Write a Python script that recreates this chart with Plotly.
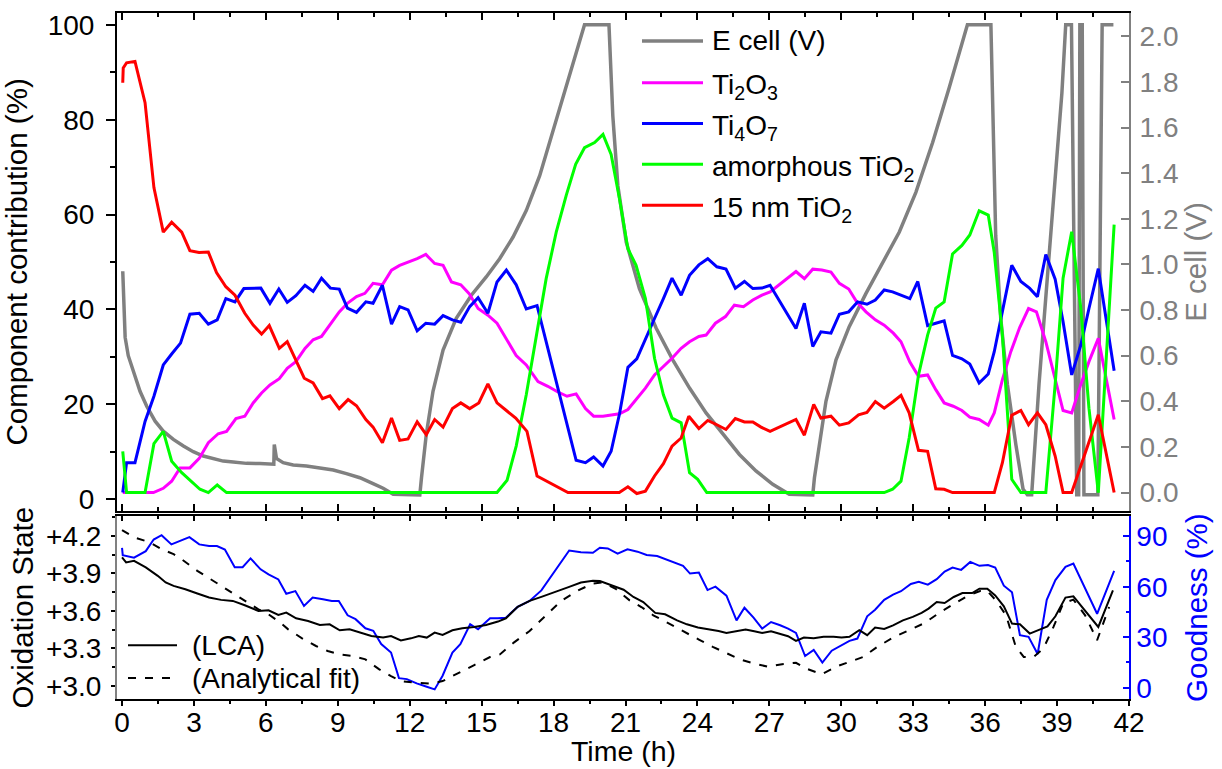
import plotly.graph_objects as go

# ---------------- top panel data ----------------
t_ecell = [0.03, 0.06, 0.13, 0.26, 0.47, 0.75, 1.03, 1.38, 1.72, 2.14, 2.56, 2.97, 3.39, 3.81, 4.22, 4.64,
           5.19, 5.75, 6.33, 6.35, 6.44, 6.72, 7.14, 7.69, 8.25, 8.81, 9.36, 9.92, 10.47, 10.89, 11.31, 12.42,
           12.49, 12.69, 12.97, 13.39, 13.94, 14.57, 15.19, 15.75, 16.31, 16.86, 17.42, 17.97, 18.53, 18.94,
           19.29, 20.31, 20.47, 20.68, 21.03, 21.58, 22.28, 22.97, 23.67, 24.36, 25.06, 25.75, 26.44, 27.14,
           27.83, 28.81, 28.88, 29.08, 29.36, 29.78, 30.33, 31.03, 31.72, 32.42, 33.11, 33.81, 34.50, 34.92,
           35.26, 36.24, 36.31, 36.44, 36.65, 36.93, 37.28, 37.58, 37.76, 37.94, 38.04, 38.25, 38.60, 38.94,
           39.20, 39.36, 39.60, 39.82, 39.90, 39.95, 40.05, 40.12, 40.70, 40.88, 41.35]
ecell = [0.97, 0.84, 0.68, 0.60, 0.53, 0.444, 0.378, 0.313, 0.269, 0.233, 0.204, 0.179, 0.160, 0.148, 0.138, 0.134,
         0.128, 0.127, 0.124, 0.211, 0.150, 0.131, 0.121, 0.116, 0.109, 0.099, 0.083, 0.065, 0.039, 0.019, -0.007, -0.01,
         0.065, 0.255, 0.444, 0.625, 0.764, 0.865, 0.945, 1.025, 1.120, 1.236, 1.389, 1.585, 1.782, 1.934,
         2.05, 2.05, 1.651, 1.345, 1.098, 0.894, 0.720, 0.582, 0.458, 0.349, 0.255, 0.167, 0.095, 0.036,
         -0.007, -0.01, 0.065, 0.211, 0.40, 0.582, 0.727, 0.873, 1.003, 1.142, 1.316, 1.534, 1.774, 1.934,
         2.05, 2.05, 1.709, 1.127, 0.764, 0.473, 0.211, 0.015, -0.01, -0.01, 0.15, 0.48, 0.95, 1.40,
         1.75, 2.05, 2.05, -0.01, -0.01, 2.05, 2.05, -0.01, -0.01, 2.05, 2.05]

t_ti2o3 = [0.03, 1.31, 1.72, 2.07, 2.42, 2.83, 3.22, 3.60, 4.01, 4.36, 4.75, 5.12, 5.47, 5.82, 6.17, 6.56, 6.89,
           7.25, 7.63, 7.97, 8.32, 8.67, 9.06, 9.40, 9.78, 10.13, 10.47, 10.86, 11.24, 11.58, 11.93, 12.31, 12.67,
           13.04, 13.39, 13.74, 14.13, 14.47, 14.85, 15.26, 15.64, 16.03, 16.44, 16.86, 17.35, 17.76, 18.14, 18.56,
           18.94, 19.33, 19.67, 20.06, 20.75, 21.10, 21.47, 21.83, 22.21, 22.58, 22.94, 23.32, 23.67, 24.06, 24.36,
           24.75, 25.17, 25.54, 25.92, 26.31, 26.69, 27.03, 27.39, 27.76, 28.11, 28.46, 28.81, 29.19, 29.57, 29.92,
           30.31, 30.64, 31.03, 31.42, 31.79, 32.17, 32.49, 32.86, 33.22, 33.60, 33.94, 34.29, 34.67, 35.03, 35.36,
           35.75, 36.13, 36.38, 36.72, 37.07, 37.44, 37.81, 38.14, 38.53, 38.89, 39.25, 39.61, 39.99, 40.33, 40.72,
           41.38]
ti2o3 = [1.4, 1.4, 2.3, 3.8, 6.6, 6.6, 8.6, 11.9, 13.8, 14.3, 17.0, 17.5, 20.3, 22.4, 24.1, 25.4, 27.6,
         29.0, 31.8, 33.6, 34.3, 36.7, 39.5, 41.3, 42.7, 43.4, 45.5, 45.2, 48.3, 49.3, 50.0, 50.7, 51.6,
         49.7, 49.3, 45.8, 45.2, 43.4, 40.2, 38.8, 37.1, 33.9, 30.3, 28.3, 24.8, 23.8, 22.7, 21.7,
         22.2, 19.1, 17.5, 17.5, 18.0, 18.9, 21.3, 23.4, 26.2, 28.0, 29.7, 31.8, 33.2, 34.3, 34.6,
         37.1, 38.5, 40.9, 40.6, 42.0, 43.0, 43.7, 45.1, 46.6, 48.0, 46.5, 48.5, 48.3, 47.9, 45.5,
         44.3, 41.6, 39.5, 37.8, 36.7, 35.0, 33.2, 28.9, 25.9, 26.2, 23.1, 20.3, 19.6, 18.7, 17.3,
         16.8, 15.6, 18.2, 25.2, 31.1, 36.2, 40.2, 39.5, 33.2, 25.9, 18.7, 18.2, 24.2, 29.0, 33.9,
         16.8]

t_ti4o7 = [0.03, 0.19, 0.54, 0.96, 1.33, 1.72, 2.07, 2.44, 2.83, 3.22, 3.60, 3.97, 4.33, 4.71, 5.08, 5.44, 5.79,
           6.17, 6.54, 6.89, 7.25, 7.63, 7.97, 8.32, 8.69, 9.06, 9.40, 9.78, 10.17, 10.47, 10.86, 11.24, 11.58,
           11.93, 12.31, 12.67, 13.04, 13.39, 13.78, 14.13, 14.50, 14.85, 15.26, 15.64, 16.03, 16.44, 16.86, 17.31,
           18.94, 19.33, 19.67, 20.06, 20.40, 20.75, 21.10, 21.47, 21.83, 22.21, 22.58, 22.94, 23.32, 23.67, 24.06,
           24.43, 24.81, 25.19, 25.58, 25.96, 26.31, 26.69, 27.03, 28.11, 28.46, 28.81, 29.15, 29.57, 29.92, 30.31,
           30.68, 31.07, 31.42, 31.79, 32.14, 32.49, 32.86, 33.19, 33.60, 33.94, 34.29, 34.64, 35.03, 35.36, 35.75,
           36.13, 36.38, 36.72, 37.11, 37.49, 37.85, 38.18, 38.53, 38.92, 39.25, 39.61, 39.99, 40.33, 40.72, 41.38]
ti4o7 = [1.4, 7.7, 7.7, 16.4, 21.7, 28.3, 30.6, 32.9, 39.0, 39.2, 36.9, 37.8, 42.3, 41.6, 44.4, 44.4, 44.5,
         41.3, 44.3, 41.5, 42.9, 45.1, 43.8, 46.6, 44.5, 44.3, 40.3, 39.4, 41.6, 41.3, 45.1, 36.9, 40.6,
         39.9, 35.5, 37.1, 36.9, 38.7, 37.8, 37.3, 40.6, 42.5, 39.2, 45.8, 48.3, 45.2, 40.1, 40.8,
         8.2, 7.7, 8.9, 7.0, 10.1, 18.0, 27.8, 29.6, 33.9, 38.1, 42.3, 46.6, 43.0, 47.2, 49.4,
         50.7, 49.0, 48.5, 44.5, 45.9, 44.4, 44.5, 45.1, 36.0, 41.3, 32.2, 35.3, 35.0, 39.0, 39.5,
         41.6, 41.1, 42.0, 44.1, 43.7, 43.0, 42.3, 45.9, 36.6, 37.1, 37.6, 30.3, 29.6, 28.5, 24.5,
         26.4, 31.1, 39.6, 49.3, 45.9, 44.5, 42.7, 51.6, 46.4, 37.4, 26.2, 32.5, 40.2, 48.6, 27.1]

t_amorph = [0.03, 0.19, 0.96, 1.33, 1.72, 2.07, 2.49, 2.90, 3.25, 3.60, 3.97, 4.36, 15.64, 16.06, 16.44, 16.86,
            17.28, 17.69, 18.11, 18.53, 18.92, 19.29, 19.71, 20.06, 20.40, 20.75, 21.10, 21.44, 21.83, 22.21,
            22.58, 22.94, 23.32, 23.67, 24.01, 24.39, 31.79, 32.14, 32.49, 32.83, 33.22, 33.60, 33.94, 34.29,
            34.64, 35.03, 35.36, 35.75, 36.13, 36.38, 36.72, 37.11, 37.49, 38.53, 38.92, 39.25, 39.61, 39.99,
            40.33, 40.72, 41.38]
amorph = [10.1, 1.4, 1.4, 11.7, 14.3, 8.0, 5.6, 3.8, 2.1, 1.4, 3.0, 1.4, 1.4, 4.0, 11.2, 22.0,
          34.6, 46.5, 56.3, 64.1, 70.6, 74.1, 75.2, 76.9, 72.7, 63.3, 52.8, 49.3, 42.3, 29.7,
          22.0, 17.1, 16.1, 5.6, 4.2, 1.4, 1.4, 2.1, 3.8, 12.9, 26.2, 34.6, 40.3, 41.6,
          51.7, 53.5, 55.7, 60.8, 59.9, 52.0, 34.6, 4.2, 1.4, 1.4, 24.2, 46.6, 56.4, 40.2,
          19.2, 1.4, 57.9]

t_nm15 = [0.03, 0.05, 0.19, 0.54, 0.96, 1.33, 1.72, 2.07, 2.49, 2.83, 3.21, 3.60, 3.94, 4.33, 4.71, 5.12, 5.47,
          5.82, 6.14, 6.56, 6.89, 7.25, 7.60, 7.97, 8.36, 8.67, 9.06, 9.43, 9.78, 10.17, 10.47, 10.86, 11.24,
          11.58, 11.93, 12.31, 12.69, 13.04, 13.39, 13.78, 14.13, 14.50, 14.88, 15.26, 15.64, 16.03, 16.42, 16.89,
          17.31, 18.60, 20.74, 21.10, 21.47, 21.83, 22.21, 22.58, 22.94, 23.32, 23.64, 24.06, 24.43, 24.81, 25.19,
          25.58, 25.96, 26.31, 26.65, 27.03, 27.42, 28.11, 28.46, 28.85, 29.15, 29.57, 29.92, 30.31, 30.72, 31.07,
          31.42, 31.79, 32.17, 32.49, 32.83, 33.22, 33.60, 33.94, 34.29, 34.64, 36.38, 36.72, 37.11, 37.49, 37.81,
          38.18, 38.53, 38.92, 39.25, 39.61, 40.72, 41.38]
nm15 = [87.8, 90.9, 92.0, 92.3, 83.6, 65.7, 56.3, 58.4, 56.3, 52.4, 52.0, 52.1, 47.8, 44.8, 43.0, 39.2, 36.7,
        34.8, 36.6, 31.8, 33.2, 29.4, 25.5, 24.5, 21.2, 21.8, 19.1, 21.0, 19.7, 16.8, 15.2, 11.9, 17.1,
        12.4, 12.7, 16.3, 13.6, 16.8, 15.2, 19.1, 20.3, 19.1, 20.3, 24.3, 20.3, 18.7, 17.1, 14.3,
        4.9, 1.4, 1.4, 2.6, 1.2, 1.7, 4.9, 7.5, 11.2, 12.9, 17.5, 14.9, 16.6, 15.7, 14.7,
        17.0, 16.3, 16.3, 15.2, 14.3, 15.2, 16.8, 13.5, 20.0, 17.1, 17.5, 15.6, 16.1, 17.8, 18.3,
        20.6, 19.2, 20.6, 21.9, 18.2, 10.3, 10.1, 2.2, 2.1, 1.4, 1.4, 7.7, 17.7, 18.7, 15.7,
        18.2, 15.7, 9.1, 1.4, 1.4, 17.8, 1.4]

# ---------------- bottom panel data ----------------
t_lca = [0.00, 0.17, 0.50, 0.99, 1.49, 1.82, 2.15, 2.64, 3.14, 3.63, 4.13, 4.62, 5.12, 5.69, 6.11, 6.52, 6.85,
         7.26, 7.76, 8.25, 8.66, 9.08, 9.49, 9.90, 10.40, 10.89, 11.22, 11.63, 12.05, 12.38, 12.71, 13.04, 13.37,
         13.78, 14.19, 14.69, 15.18, 15.68, 16.01, 16.50, 17.00, 17.49, 18.15, 18.65, 19.14, 19.64, 19.93, 20.42,
         20.92, 21.33, 21.74, 22.24, 22.65, 23.15, 23.56, 24.02, 24.47, 24.88, 25.21, 25.63, 26.01, 26.37, 26.70,
         27.07, 27.45, 27.78, 28.11, 28.44, 28.85, 29.26, 29.68, 30.01, 30.34, 30.75, 31.08, 31.41, 31.79, 32.16,
         32.57, 32.98, 33.35, 33.64, 33.98, 34.31, 34.69, 35.05, 35.46, 35.76, 36.09, 36.42, 36.78, 37.12, 37.45,
         37.86, 38.27, 38.60, 38.93, 39.35, 39.68, 40.17, 40.72, 41.33]
ox_lca = [4.027, 3.987, 4.000, 3.947, 3.880, 3.827, 3.800, 3.773, 3.739, 3.707, 3.688, 3.680, 3.645, 3.600, 3.605, 3.568, 3.587,
          3.541, 3.520, 3.488, 3.493, 3.445, 3.453, 3.427, 3.400, 3.387, 3.400, 3.365, 3.381, 3.400, 3.387, 3.427, 3.408,
          3.445, 3.461, 3.472, 3.488, 3.515, 3.541, 3.632, 3.680, 3.712, 3.755, 3.792, 3.827, 3.840, 3.838, 3.804,
          3.769, 3.711, 3.671, 3.584, 3.573, 3.525, 3.493, 3.467, 3.456, 3.440, 3.424, 3.440, 3.451, 3.438, 3.424,
          3.438, 3.419, 3.398, 3.361, 3.387, 3.382, 3.393, 3.393, 3.387, 3.393, 3.446, 3.406, 3.467, 3.456, 3.485,
          3.525, 3.552, 3.584, 3.618, 3.671, 3.663, 3.711, 3.743, 3.743, 3.777, 3.777, 3.724, 3.637, 3.499, 3.493,
          3.419, 3.451, 3.477, 3.557, 3.706, 3.716, 3.605, 3.472, 3.764]

t_fit = [0.00, 0.50, 1.16, 1.65, 2.15, 2.48, 3.14, 3.80, 4.46, 5.12, 5.69, 6.11, 6.60, 6.93, 7.51, 8.09, 8.58,
         9.08, 9.65, 10.15, 10.73, 11.22, 11.63, 12.21, 12.87, 13.37, 14.03, 14.69, 15.35, 15.76, 16.34, 17.00, 17.66,
         18.32, 18.98, 19.64, 20.05, 20.59, 21.17, 21.66, 22.16, 22.74, 23.40, 24.06, 24.64, 25.21, 25.79, 26.37,
         26.95, 27.53, 28.11, 28.52, 29.18, 29.84, 30.50, 30.92, 31.50, 32.16, 32.82, 33.48, 34.14, 34.72, 35.30,
         35.79, 36.09, 36.45, 36.87, 37.28, 37.61, 38.02, 38.43, 38.85, 39.26, 39.68, 40.17, 40.67, 41.17]
ox_fit = [4.245, 4.187, 4.147, 4.093, 4.053, 4.013, 3.920, 3.840, 3.760, 3.680, 3.613, 3.573, 3.507, 3.453, 3.381, 3.320, 3.280,
          3.253, 3.240, 3.213, 3.133, 3.080, 3.040, 3.027, 3.019, 3.040, 3.107, 3.168, 3.232, 3.253, 3.347, 3.440, 3.560,
          3.680, 3.760, 3.819, 3.827, 3.777, 3.684, 3.631, 3.565, 3.504, 3.440, 3.371, 3.313, 3.260, 3.212, 3.180,
          3.154, 3.175, 3.186, 3.141, 3.095, 3.159, 3.202, 3.233, 3.313, 3.387, 3.446, 3.504, 3.592, 3.658, 3.724,
          3.759, 3.759, 3.684, 3.565, 3.313, 3.233, 3.233, 3.300, 3.472, 3.663, 3.690, 3.565, 3.366, 3.631]

t_good = [0.00, 0.03, 0.50, 0.99, 1.32, 1.65, 2.06, 2.48, 2.81, 3.22, 3.63, 3.96, 4.29, 4.70, 5.03, 5.36, 5.78,
          6.11, 6.52, 6.85, 7.23, 7.59, 7.95, 8.38, 8.75, 9.04, 9.41, 9.74, 10.15, 10.48, 10.81, 11.22, 11.55,
          11.88, 12.29, 12.71, 13.04, 13.37, 13.78, 14.11, 14.52, 14.85, 15.35, 15.68, 16.01, 16.50, 17.00, 17.49,
          17.99, 18.65, 19.14, 19.64, 19.93, 20.26, 20.67, 21.08, 21.50, 21.88, 22.32, 22.65, 23.07, 23.40, 23.69,
          24.06, 24.42, 24.75, 25.21, 25.63, 25.96, 26.34, 26.70, 27.07, 27.45, 27.78, 28.11, 28.49, 28.85, 29.21,
          29.60, 30.01, 30.34, 30.67, 31.08, 31.41, 31.79, 32.16, 32.49, 32.90, 33.23, 33.61, 33.98, 34.31, 34.64,
          35.00, 35.38, 35.76, 36.12, 36.42, 36.78, 37.12, 37.45, 37.81, 38.19, 38.57, 38.93, 39.35, 39.68, 40.67,
          41.38]
goodness = [83.1, 78.7, 77.2, 81.1, 88.0, 90.6, 85.1, 87.4, 89.4, 85.1, 84.1, 84.1, 82.1, 71.6, 71.6, 76.8, 70.3,
            67.3, 64.3, 55.8, 57.4, 48.6, 53.5, 52.5, 51.5, 51.5, 43.0, 40.7, 35.3, 33.8, 25.9, 20.9, 5.7,
            5.1, 2.6, 0.6, -1.0, 7.1, 20.9, 25.9, 37.7, 34.7, 41.3, 41.3, 41.6, 48.0, 51.5, 57.8,
            67.7, 81.5, 80.5, 80.1, 83.1, 82.7, 79.6, 82.2, 80.8, 78.8, 78.2, 76.3, 74.3, 72.4, 67.8,
            68.4, 58.0, 60.0, 54.7, 40.0, 47.5, 41.6, 35.1, 39.0, 37.1, 35.1, 32.5, 18.8, 22.4, 14.9,
            22.0, 25.3, 27.8, 29.2, 42.4, 46.3, 52.2, 55.3, 57.3, 61.6, 62.9, 61.2, 64.5, 69.0, 71.4,
            70.0, 74.7, 72.4, 72.9, 71.4, 60.6, 56.7, 31.2, 30.2, 20.0, 52.2, 63.9, 71.8, 73.7, 43.9,
            69.4]

x_ticks = list(range(0, 43, 3))
ox_ticks = [3.0, 3.3, 3.6, 3.9, 4.2]
ox_ticktext = ["+3.0", "+3.3", "+3.6", "+3.9", "+4.2"]
ecell_ticks = [0, 0.2, 0.4, 0.6, 0.8, 1.0, 1.2, 1.4, 1.6, 1.8, 2.0]
comp_ticks = [0, 20, 40, 60, 80, 100]
good_ticks = [0, 30, 60, 90]

# ---------------- styling ----------------
FONT = "Liberation Sans, Arial, sans-serif"
FS = 28      # tick labels / legend
FT = 29.5    # axis titles
GREY = "#808080"
W, H = 1222, 769
L, R, T, B = 117, 93, 10, 70
PW, PH = W - L - R, H - T - B


def px_x(X):
    return (X - L) / PW


def px_y(Y):
    return (H - B - Y) / PH


top_dom = [px_y(510), 1.0]
bot_dom = [0.0, px_y(515.5)]
x_range = [-0.21, 42.0]

fig = go.Figure()

fig.add_trace(go.Scatter(x=t_ecell, y=ecell, mode="lines", name="E cell (V)",
                         line=dict(color=GREY, width=3.5), xaxis="x", yaxis="y"))
series = [("Ti<sub>2</sub>O<sub>3</sub>", t_ti2o3, ti2o3, "#FF00FF"),
          ("Ti<sub>4</sub>O<sub>7</sub>", t_ti4o7, ti4o7, "#0000FF"),
          ("amorphous TiO<sub>2</sub>", t_amorph, amorph, "#00FF00"),
          ("15 nm TiO<sub>2</sub>", t_nm15, nm15, "#FF0000")]
for name, tx, vy, col in series:
    fig.add_trace(go.Scatter(x=tx, y=vy, mode="lines", name=name,
                             line=dict(color=col, width=3), xaxis="x", yaxis="y2"))

fig.add_trace(go.Scatter(x=t_good, y=goodness, mode="lines", name="Goodness",
                         line=dict(color="#0000FF", width=2), xaxis="x2", yaxis="y3"))
fig.add_trace(go.Scatter(x=t_lca, y=ox_lca, mode="lines", name="(LCA)",
                         line=dict(color="black", width=2), xaxis="x2", yaxis="y4"))
fig.add_trace(go.Scatter(x=t_fit, y=ox_fit, mode="lines", name="(Analytical fit)",
                         line=dict(color="black", width=2, dash="8px,9px"), xaxis="x2", yaxis="y4"))
fig.add_trace(go.Scatter(x=[None], y=[None], mode="lines", showlegend=False, hoverinfo="skip",
                         xaxis="x3", yaxis="y3"))

tickfont = dict(family=FONT, size=FS, color="black")

fig.update_layout(
    width=W, height=H, autosize=False,
    margin=dict(l=L, r=R, t=T, b=B, pad=0),
    paper_bgcolor="white", plot_bgcolor="white",
    font=dict(family=FONT, size=FS, color="black"),
    showlegend=False,
    xaxis=dict(domain=[0, 1], anchor="y", range=x_range, tickvals=x_ticks, showticklabels=False,
               ticks="inside", ticklen=7, tickwidth=1.5, tickcolor="black",
               minor=dict(dtick=1.5, tick0=0, ticks="inside", ticklen=4, tickwidth=1.5, tickcolor="black"),
               showline=True, linecolor="black", linewidth=2, mirror="ticks",
               showgrid=False, zeroline=False),
    yaxis=dict(domain=top_dom, anchor="x", side="right", range=[-0.080, 2.102],
               tickvals=ecell_ticks, tickformat=".1f", ticklabelstandoff=3,
               ticks="inside", ticklen=8, tickwidth=1.5, tickcolor=GREY,
               tickfont=dict(family=FONT, size=FS, color=GREY),
               showline=True, linecolor=GREY, linewidth=2, showgrid=False, zeroline=False,
               title=dict(text="E cell (V)", font=dict(family=FONT, size=FT, color=GREY), standoff=8)),
    yaxis2=dict(domain=top_dom, anchor="x", overlaying="y", side="left", range=[-2.45, 102.5],
                tickvals=comp_ticks, ticks="outside", ticklen=9, tickwidth=1.5, tickcolor="black",
                ticklabelstandoff=6,
                minor=dict(dtick=10, tick0=0, ticks="outside", ticklen=5, tickwidth=1.5, tickcolor="black"),
                tickfont=tickfont, showline=True, linecolor="black", linewidth=2,
                showgrid=False, zeroline=False,
                title=dict(text="Component contribution (%)", font=dict(family=FONT, size=FT), standoff=12)),
    xaxis2=dict(domain=[0, 1], anchor="y3", range=x_range, tickvals=x_ticks, tickfont=tickfont,
                ticks="outside", ticklen=5, tickwidth=1.5, tickcolor="black", ticklabelstandoff=-8,
                minor=dict(dtick=1.5, tick0=0, ticks="outside", ticklen=3, tickwidth=1.5, tickcolor="black"),
                showline=True, linecolor="black", linewidth=2, mirror=True,
                showgrid=False, zeroline=False),
    xaxis3=dict(overlaying="x2", anchor="y3", side="top", range=x_range, tickvals=x_ticks,
                showticklabels=False, ticks="inside", ticklen=5, tickwidth=1.5, tickcolor="black",
                minor=dict(dtick=1.5, tick0=0, ticks="inside", ticklen=3, tickwidth=1.5, tickcolor="black"),
                showline=False, showgrid=False, zeroline=False),
    yaxis3=dict(domain=bot_dom, anchor="x2", side="right", range=[-6.7, 101.8],
                tickvals=good_ticks, ticks="inside", ticklen=6, tickwidth=1.5, tickcolor="#0000FF",
                minor=dict(dtick=15, tick0=0, ticks="inside", ticklen=3, tickwidth=1.5, tickcolor="#0000FF"),
                tickfont=dict(family=FONT, size=FS, color="#0000FF"),
                showline=True, linecolor="#0000FF", linewidth=1.5, showgrid=False, zeroline=False,
                title=dict(text="Goodness (%)", font=dict(family=FONT, size=FT, color="#0000FF"), standoff=20)),
    yaxis4=dict(domain=bot_dom, anchor="x2", overlaying="y3", side="left", range=[2.897, 4.355],
                tickvals=ox_ticks, ticktext=ox_ticktext, ticklabelstandoff=4,
                ticks="outside", ticklen=4, tickwidth=1.5, tickcolor="black",
                minor=dict(dtick=0.15, tick0=3.0, ticks="outside", ticklen=3, tickwidth=1.5, tickcolor="black"),
                tickfont=tickfont, showline=True, linecolor=GREY, linewidth=2,
                showgrid=False, zeroline=False,
                title=dict(text="Oxidation State", font=dict(family=FONT, size=FT), standoff=4)),
)

# x-axis title placed under the bottom tick labels, kept inside the page
fig.add_annotation(xref="paper", yref="paper", x=px_x(623), y=px_y(768.5), text="Time (h)", showarrow=False,
                   xanchor="center", yanchor="bottom", borderpad=0,
                   font=dict(family=FONT, size=28.5, color="black"))

# ---------------- legends (drawn as line samples + text) ----------------
legend_top = [("E cell (V)", GREY, 3.5, 38),
              ("Ti<sub>2</sub>O<sub>3</sub>", "#FF00FF", 3, 80),
              ("Ti<sub>4</sub>O<sub>7</sub>", "#0000FF", 3, 121),
              ("amorphous TiO<sub>2</sub>", "#00FF00", 3, 162),
              ("15 nm TiO<sub>2</sub>", "#FF0000", 3, 203)]
for text, col, wd, yy in legend_top:
    fig.add_shape(type="line", xref="paper", yref="paper", x0=px_x(642), x1=px_x(703),
                  y0=px_y(yy), y1=px_y(yy), line=dict(color=col, width=wd))
    fig.add_annotation(xref="paper", yref="paper", x=px_x(710), y=px_y(yy), text=text, showarrow=False,
                       xanchor="left", yanchor="middle", font=dict(family=FONT, size=FS, color="black"),
                       yshift=(-4 if "<sub>" in text else 0))

legend_bot = [("(LCA)", "solid", 645), ("(Analytical fit)", "8px,9px", 678)]
for text, dash, yy in legend_bot:
    fig.add_shape(type="line", xref="paper", yref="paper", x0=px_x(128), x1=px_x(177),
                  y0=px_y(yy), y1=px_y(yy), line=dict(color="black", width=2, dash=dash))
    fig.add_annotation(xref="paper", yref="paper", x=px_x(190), y=px_y(yy), text=text, showarrow=False,
                       xanchor="left", yanchor="middle", font=dict(family=FONT, size=FS, color="black"))

# remove the browser's default 8px body margin so the figure sits at the page origin; hide the modebar
fig.write_html("out.html", config={"displayModeBar": False},
               post_script="document.body.style.margin='0';")
